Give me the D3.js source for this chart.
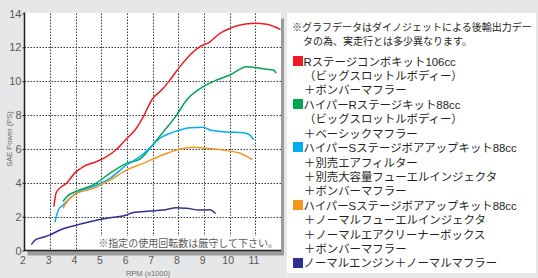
<!DOCTYPE html>
<html><head><meta charset="utf-8">
<script src="https://cdn.jsdelivr.net/npm/d3@7"></script>
<style>
html,body{margin:0;padding:0;background:#e6e7e8;}
#wrap{position:relative;width:538px;height:278px;overflow:hidden;}
svg{display:block;position:absolute;left:0;top:0;}
text{font-family:"Liberation Sans","Noto Sans CJK JP",sans-serif;}
#legend{position:absolute;left:287px;top:13px;width:249px;height:260px;background:#fff;
  font-family:"Liberation Sans","Noto Sans CJK JP",sans-serif;color:#231f20;box-sizing:border-box;padding-top:8px;}
#legend .note{font-size:10px;line-height:13.5px;height:13.5px;white-space:nowrap;}
#legend .item{font-size:11.4px;line-height:14.43px;height:14.43px;white-space:nowrap;position:relative;}
#legend .sw{position:absolute;left:6px;top:1.4px;width:10px;height:10px;}
</style></head>
<body>
<div id="wrap">
<svg id="c" width="538" height="278"></svg>
<div id="legend"></div>
</div>
<script>
// ---- data ----
const xTicks = [2,3,4,5,6,7,8,9,10,11];
const yTicks = [0,2,4,6,8,10,12,14];

const redRpm = [3.15,3.23,3.38,3.65,3.97,4.29,4.81,5.2,5.59,5.98,6.31,6.63,6.96,7.41,7.67,8.06,8.45,8.84,9.23,9.62,10.01,10.4,10.98,11.44,11.96];
const redPs  = [2.63,3.4,3.69,3.99,4.6,4.95,5.25,5.54,5.98,6.6,7.12,7.9,8.89,9.58,10.07,10.86,11.55,12.04,12.33,12.83,13.12,13.32,13.42,13.36,13.07];

const greenRpm = [3.51,3.65,4.04,4.68,5.33,5.98,6.5,6.89,7.41,7.93,8.32,8.97,9.49,10.01,10.66,11.05,11.44,11.7,11.8];
const greenPs  = [2.92,3.18,3.51,3.87,4.56,5.15,5.4,6.04,7.0,8.0,8.89,9.68,10.07,10.37,10.86,10.8,10.7,10.66,10.5];

const cyanRpm = [3.19,3.32,3.51,3.77,4.04,4.68,5.33,5.98,6.5,6.89,7.28,7.67,8.06,8.45,8.97,9.23,9.75,10.27,10.53,10.79,10.92];
const cyanPs  = [1.7,2.39,2.69,3.08,3.41,3.77,4.26,5.05,5.54,6.06,6.63,6.92,7.12,7.25,7.28,7.12,7.02,6.98,6.96,6.82,6.57];

const orangeRpm = [3.51,3.71,4.04,4.68,5.33,5.98,6.63,7.28,7.93,8.58,9.1,9.88,10.4,10.86];
const orangePs  = [2.53,2.98,3.38,3.67,4.16,4.75,5.15,5.58,5.94,6.1,6.04,5.9,5.74,5.39];

const navyRpm = [2.28,2.41,2.73,2.99,3.38,3.9,4.55,5.2,5.98,6.24,6.89,7.41,7.93,8.32,8.84,9.23,9.43];
const navyPs  = [0.38,0.62,0.78,0.92,1.21,1.45,1.7,1.9,2.1,2.25,2.33,2.39,2.53,2.49,2.39,2.4,2.2];

const seriesNames = [
  ["Rステージコンボキット106cc","（ビッグスロットルボディー）","＋ボンバーマフラー"],
  ["ハイパーRステージキット88cc","（ビッグスロットルボディー）","＋ベーシックマフラー"],
  ["ハイパーSステージボアアップキット88cc","＋別売エアフィルター","＋別売大容量フューエルインジェクタ","＋ボンバーマフラー"],
  ["ハイパーSステージボアアップキット88cc","＋ノーマルフューエルインジェクタ","＋ノーマルエアクリーナーボックス","＋ボンバーマフラー"],
  ["ノーマルエンジン＋ノーマルマフラー"]
];
const noteLines = ["※グラフデータはダイノジェットによる後輸出力デー","タの為、実走行とは多少異なります。"];
const plotNote = "※指定の使用回転数は厳守して下さい。";
const yTitle = "SAE Power (PS)";
const xTitle = "RPM (x1000)";

const colors = ["#ed1c24","#00a651","#00aeef","#f7941d","#2e3192"];
const series = [
  {rpm:redRpm, ps:redPs},
  {rpm:greenRpm, ps:greenPs},
  {rpm:cyanRpm, ps:cyanPs},
  {rpm:orangeRpm, ps:orangePs},
  {rpm:navyRpm, ps:navyPs}
];

// ---- layout ----
const svg = d3.select("#c");
const L = 24.5, R = 281, T = 13.5, B = 250.5;
const x = d3.scaleLinear().domain([2,12]).range([L,R]);
const y = d3.scaleLinear().domain([0,14]).range([B,T]);

// shadow + plot bg
svg.append("rect").attr("x",L+3).attr("y",T+5).attr("width",R-L).attr("height",B-T).attr("fill","#9a9b9d");
svg.append("rect").attr("x",L).attr("y",T-0.5).attr("width",R-L).attr("height",B-T+0.5).attr("fill","#fff");

// grid
const grid = svg.append("g").attr("stroke","#3a3a3a").attr("stroke-width",1).attr("stroke-dasharray","1.5,1.5").attr("fill","none");
xTicks.filter(d=>d>2).forEach(d=>{
  grid.append("line").attr("x1",Math.round(x(d))+0.5).attr("x2",Math.round(x(d))+0.5).attr("y1",T).attr("y2",B);
});
yTicks.filter(d=>d>0 && d<14).forEach(d=>{
  grid.append("line").attr("x1",L).attr("x2",R).attr("y1",Math.round(y(d))+0.5).attr("y2",Math.round(y(d))+0.5);
});

// plot note with white background
const noteG = svg.append("g");
const nt = noteG.append("text").attr("x",278).attr("y",246.5).attr("text-anchor","end")
  .attr("font-size",10).attr("fill","#58595b").text(plotNote);
const bb = nt.node().getBBox();
noteG.insert("rect","text").attr("x",bb.x-1).attr("y",236).attr("width",bb.width+2).attr("height",B-1-236).attr("fill","#fff");

// curves
const line = d3.line().x(d=>x(d[0])).y(d=>y(d[1])).curve(d3.curveMonotoneX);
series.forEach((s,i)=>{
  const pts = s.rpm.map((r,j)=>[r,s.ps[j]]);
  svg.append("path").attr("d",line(pts)).attr("fill","none").attr("stroke",colors[i]).attr("stroke-width",1.5).attr("stroke-linejoin","round").attr("stroke-linecap","round");
});

// axes lines
svg.append("line").attr("x1",L).attr("x2",L).attr("y1",T-1).attr("y2",B+0.5).attr("stroke","#231f20").attr("stroke-width",1.5);
svg.append("line").attr("x1",L).attr("x2",R).attr("y1",B).attr("y2",B).attr("stroke","#231f20").attr("stroke-width",1.5);

// axes via d3
const yAxis = d3.axisLeft(y).tickValues(yTicks).tickSize(2).tickPadding(1).tickFormat(d3.format("d"));
const ya = svg.append("g").attr("transform",`translate(${L},0)`).call(yAxis);
ya.select(".domain").remove();
ya.selectAll(".tick line").attr("stroke","#231f20");
ya.selectAll(".tick text").attr("font-size",11).attr("fill","#58595b").attr("font-family","'Noto Sans',sans-serif");

const xAxis = d3.axisBottom(x).tickValues(xTicks).tickSize(0).tickPadding(6).tickFormat(d3.format("d"));
const xa = svg.append("g").attr("transform",`translate(-2,${B})`).call(xAxis);
xa.select(".domain").remove();
xa.selectAll(".tick text").attr("font-size",10.5).attr("fill","#58595b").attr("font-family","'Liberation Sans',sans-serif");

// axis titles
svg.append("text").attr("transform","translate(9,139) rotate(-90)").attr("text-anchor","middle")
  .attr("dominant-baseline","central").attr("font-size",7.5).attr("fill","#6d6e71").text(yTitle);
svg.append("text").attr("x",148).attr("y",276).attr("text-anchor","middle")
  .attr("font-size",7.5).attr("fill","#6d6e71").text(xTitle);

// legend (HTML, built with d3)
const leg = d3.select("#legend");
noteLines.forEach((t,i)=>{
  leg.append("div").attr("class","note").style("padding-left",(i===0?5:16)+"px").text(t);
});
const items = leg.append("div").style("margin-top","6.55px");
seriesNames.forEach((lines,i)=>{
  lines.forEach((t,j)=>{
    const row = items.append("div").attr("class","item").style("padding-left",(j===0?16.5:17)+"px");
    if(j===0) row.append("span").attr("class","sw").style("background",colors[i]);
    row.append("span").text(t);
  });
});
</script>
</body></html>
